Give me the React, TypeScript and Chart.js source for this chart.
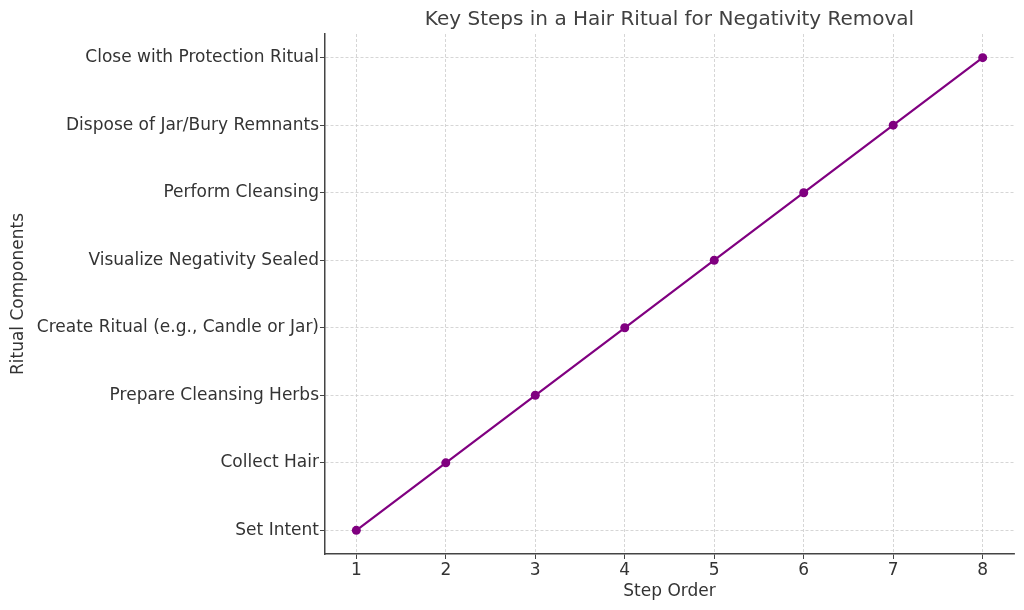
import React, { useEffect, useRef } from "react";
import { Chart, registerables } from "chart.js";

Chart.register(...registerables);

const categories: string[] = [
  "Set Intent",
  "Collect Hair",
  "Prepare Cleansing Herbs",
  "Create Ritual (e.g., Candle or Jar)",
  "Visualize Negativity Sealed",
  "Perform Cleansing",
  "Dispose of Jar/Bury Remnants",
  "Close with Protection Ritual",
];
const stepOrder: number[] = [1, 2, 3, 4, 5, 6, 7, 8];
const componentIndex: number[] = [0, 1, 2, 3, 4, 5, 6, 7];
const xTicks: number[] = [1, 2, 3, 4, 5, 6, 7, 8];
const titleText = "Key Steps in a Hair Ritual for Negativity Removal";

const FONT = "'DejaVu Sans', sans-serif";

const titlePlugin = {
  id: "axesTitle",
  afterDraw(chart: any) {
    const { ctx, chartArea } = chart;
    ctx.save();
    ctx.font = `20px ${FONT}`;
    ctx.fillStyle = "#404040";
    ctx.textAlign = "center";
    ctx.textBaseline = "middle";
    ctx.fillText(titleText, (chartArea.left + chartArea.right) / 2, 19.5);
    ctx.restore();
  },
};

export default function App() {
  const ref = useRef<HTMLCanvasElement | null>(null);
  useEffect(() => {
    if (!ref.current) return;
    const chart = new Chart(ref.current, {
      type: "line",
      data: {
        datasets: [
          {
            data: stepOrder.map((x, i) => ({ x, y: componentIndex[i] })),
            borderColor: "#800080",
            backgroundColor: "#800080",
            borderWidth: 2.2,
            pointRadius: 4.5,
            pointBackgroundColor: "#800080",
            pointBorderWidth: 0,
            tension: 0,
          },
        ],
      },
      plugins: [titlePlugin],
      options: {
        animation: false,
        responsive: false,
        layout: { padding: { left: 0, right: 10, top: 34, bottom: 0 } },
        plugins: {
          legend: { display: false },
          tooltip: { enabled: false },
          title: { display: false },
        },
        scales: {
          x: {
            type: "linear",
            min: 0.65,
            max: 8.35,
            afterBuildTicks: (s: any) => {
              s.ticks = xTicks.map((v) => ({ value: v }));
            },
            afterFit: (s: any) => {
              s.height = 56;
            },
            ticks: {
              color: "#333",
              font: { family: FONT, size: 17 },
              padding: 1,
              maxRotation: 0,
              callback: (v: any) => String(v),
            },
            grid: {
              color: "#cccccc",
              lineWidth: 0.8,
              tickColor: "#444",
              tickLength: 5,
              tickWidth: 1,
            },
            border: { display: true, color: "#444", width: 1.5, dash: [3, 2] },
            title: {
              display: true,
              text: "Step Order",
              color: "#333",
              font: { family: FONT, size: 17 },
              padding: { top: 0, bottom: 8 },
            },
          },
          y: {
            type: "linear",
            min: -0.35,
            max: 7.35,
            afterBuildTicks: (s: any) => {
              s.ticks = componentIndex.map((v) => ({ value: v }));
            },
            afterFit: (s: any) => {
              s.width = 325;
            },
            ticks: {
              color: "#333",
              font: { family: FONT, size: 17 },
              padding: 1,
              callback: (v: any) => categories[Math.round(Number(v))] ?? "",
            },
            grid: {
              color: "#cccccc",
              lineWidth: 0.8,
              tickColor: "#444",
              tickLength: 5,
              tickWidth: 1,
            },
            border: { display: true, color: "#444", width: 1.5, dash: [3, 2] },
            title: {
              display: true,
              text: "Ritual Components",
              color: "#333",
              font: { family: FONT, size: 17 },
              padding: { top: 8, bottom: 0 },
            },
          },
        },
      },
    });
    return () => chart.destroy();
  }, []);
  return (
    <div style={{ position: "absolute", left: 0, top: 0, width: 1024, height: 610 }}>
      <canvas ref={ref} width={1024} height={610} />
    </div>
  );
}
